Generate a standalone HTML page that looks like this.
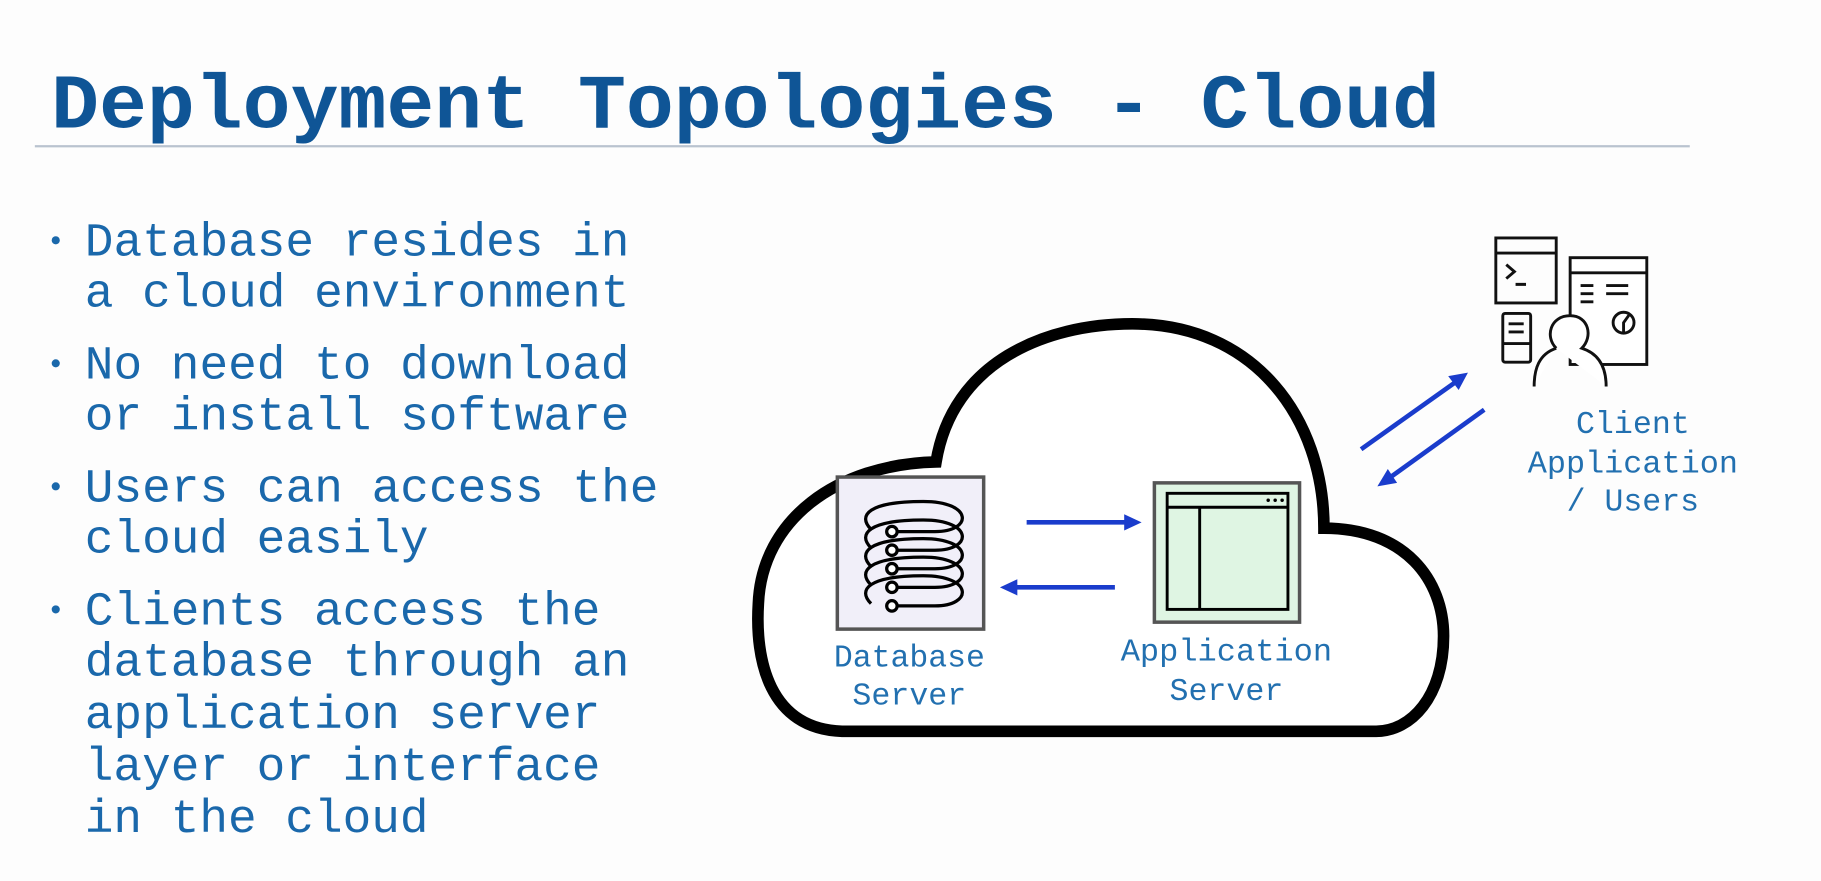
<!DOCTYPE html>
<html><head><meta charset="utf-8"><style>
html,body{margin:0;padding:0;background:#fdfdfd;}
svg{display:block;}
.m{font-family:"Liberation Mono","DejaVu Sans Mono",monospace;}
</style></head><body>
<svg width="1821" height="881" viewBox="0 0 1568 759" preserveAspectRatio="none" xmlns="http://www.w3.org/2000/svg">
<rect width="1568" height="759" fill="#fdfdfd"/>
<text class="m" x="44" y="110" font-size="66" font-weight="bold" fill="#0f5596" textLength="1196" lengthAdjust="spacingAndGlyphs">Deployment Topologies - Cloud</text>
<line x1="30" y1="126" x2="1455" y2="126" stroke="#b9c3cf" stroke-width="2"/>
<g class="m" font-size="41" fill="#1a68ab">
<circle cx="48" cy="207" r="3.5"/><circle cx="48" cy="313" r="3.5"/><circle cx="48" cy="419" r="3.5"/><circle cx="48" cy="525" r="3.5"/>
<text x="73" y="220" textLength="469" lengthAdjust="spacingAndGlyphs">Database resides in</text>
<text x="73" y="264" textLength="469" lengthAdjust="spacingAndGlyphs">a cloud environment</text>
<text x="73" y="326" textLength="469" lengthAdjust="spacingAndGlyphs">No need to download</text>
<text x="73" y="370" textLength="469" lengthAdjust="spacingAndGlyphs">or install software</text>
<text x="73" y="432" textLength="494" lengthAdjust="spacingAndGlyphs">Users can access the</text>
<text x="73" y="476" textLength="296" lengthAdjust="spacingAndGlyphs">cloud easily</text>
<text x="73" y="538" textLength="444" lengthAdjust="spacingAndGlyphs">Clients access the</text>
<text x="73" y="582" textLength="469" lengthAdjust="spacingAndGlyphs">database through an</text>
<text x="73" y="627" textLength="444" lengthAdjust="spacingAndGlyphs">application server</text>
<text x="73" y="672" textLength="444" lengthAdjust="spacingAndGlyphs">layer or interface</text>
<text x="73" y="717" textLength="296" lengthAdjust="spacingAndGlyphs">in the cloud</text>
</g>
<path d="M725,630 C662,628 650,568 653,520 C656,448 720,400 806,398 C820,312 900,279 975,279 C1080,279 1140,360 1140,455 C1210,455 1243,500 1243,548 C1243,600 1215,630 1185,630 Z" fill="#fff" stroke="#000" stroke-width="10"/>
<rect x="721" y="411" width="126" height="131" fill="#f1eff9" stroke="#555" stroke-width="3"/>
<g fill="none" stroke="#000" stroke-width="2.8">
<path d="M768,458 L805,458 C838,458 838,432 795,432 C748,432 738,444 750,456"/>
<path d="M768,474 L805,474 C838,474 838,448 795,448 C748,448 738,460 750,472"/>
<path d="M768,490 L805,490 C838,490 838,464 795,464 C748,464 738,476 750,488"/>
<path d="M768,506 L805,506 C838,506 838,480 795,480 C748,480 738,492 750,504"/>
<path d="M768,522 L805,522 C838,522 838,496 795,496 C748,496 738,508 750,520"/>
<circle cx="768" cy="458" r="4.5" fill="#fff"/><circle cx="768" cy="474" r="4.5" fill="#fff"/><circle cx="768" cy="490" r="4.5" fill="#fff"/><circle cx="768" cy="506" r="4.5" fill="#fff"/><circle cx="768" cy="522" r="4.5" fill="#fff"/>
</g>
<rect x="994" y="416" width="125" height="120" fill="#dff5e3" stroke="#555" stroke-width="3"/>
<g fill="none" stroke="#000" stroke-width="2.5">
<rect x="1005" y="425" width="104" height="100"/>
<line x1="1005" y1="437" x2="1109" y2="437"/>
<line x1="1033" y1="437" x2="1033" y2="525"/>
</g>
<circle cx="1092" cy="431" r="1.5"/><circle cx="1098" cy="431" r="1.5"/><circle cx="1104" cy="431" r="1.5"/>
<g stroke="#1a3ccc" stroke-width="4" fill="#1a3ccc">
<line x1="884" y1="450" x2="970" y2="450"/><polygon points="983,450 968,443 968,457" stroke="none"/>
<line x1="960" y1="506" x2="874" y2="506"/><polygon points="861,506 876,499 876,513" stroke="none"/>
<line x1="1172" y1="387" x2="1255" y2="328"/><polygon points="1264,321 1247,324 1256,336" stroke="none"/>
<line x1="1278" y1="353" x2="1196" y2="412"/><polygon points="1186,419 1195,404 1203,416" stroke="none"/>
</g>
<g class="m" font-size="27" fill="#2270b0" text-anchor="middle">
<text x="783" y="574" textLength="130" lengthAdjust="spacingAndGlyphs">Database</text><text x="783" y="607" textLength="98" lengthAdjust="spacingAndGlyphs">Server</text>
<text x="1056" y="569" textLength="182" lengthAdjust="spacingAndGlyphs">Application</text><text x="1056" y="603" textLength="98" lengthAdjust="spacingAndGlyphs">Server</text>
<text x="1406" y="373" textLength="98" lengthAdjust="spacingAndGlyphs">Client</text><text x="1406" y="407" textLength="181" lengthAdjust="spacingAndGlyphs">Application</text><text x="1406" y="440" textLength="114" lengthAdjust="spacingAndGlyphs">/ Users</text>
</g>
<g fill="none" stroke="#111" stroke-width="2.5">
<rect x="1288" y="205" width="52" height="56"/><line x1="1288" y1="218" x2="1340" y2="218"/>
<path d="M1297,228 L1304,234 L1297,240 M1305,245 L1314,245"/>
<rect x="1352" y="222" width="66" height="92" fill="#fff"/><line x1="1352" y1="235" x2="1418" y2="235"/>
<path d="M1361,246 L1372,246 M1383,246 L1402,246 M1361,253 L1372,253 M1383,253 L1402,253 M1361,260 L1372,260"/>
<circle cx="1398" cy="278" r="9"/><path d="M1398,287 L1398,278 L1403,271"/>
<rect x="1294" y="270" width="24" height="42" rx="2"/><path d="M1299,279 L1312,279 M1299,286 L1312,286 M1294,296 L1318,296"/>
<path d="M1340,300 C1330,290 1335,272 1352,272 C1368,272 1372,290 1362,300 C1378,305 1383,318 1383,333 M1340,300 C1325,305 1321,318 1321,333" fill="#fff"/>
</g>
</svg>
</body></html>
